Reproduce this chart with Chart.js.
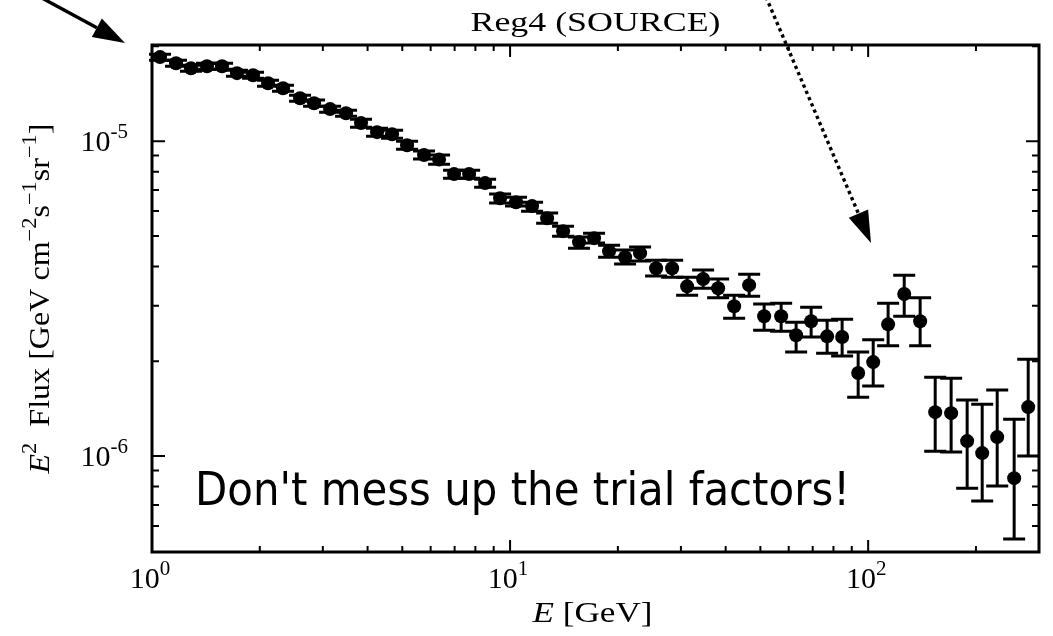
<!DOCTYPE html>
<html lang="en">
<head>
  <meta charset="UTF-8" />
  <title>Reg4 (SOURCE)</title>
  <script src="https://cdn.jsdelivr.net/npm/chart.js"></script>
  <style>
    html, body { margin: 0; padding: 0; background: #fff; }
    canvas { display: block; }
  </style>
</head>
<body>
  <canvas id="chart" width="1053" height="636"></canvas>

  <script>
    // energy bins [GeV]
    const energy = [1.053, 1.167, 1.285, 1.424, 1.569, 1.727, 1.915, 2.109, 2.322, 2.591,
      2.835, 3.143, 3.483, 3.835, 4.251, 4.682, 5.156, 5.751, 6.334, 6.975,
      7.685, 8.516, 9.378, 10.39, 11.52, 12.69, 14.06, 15.58, 17.16, 18.90,
      20.95, 23.07, 25.57, 28.35, 31.22, 34.60, 38.11, 42.24, 46.52, 51.23,
      57.15, 62.93, 69.31, 76.81, 84.59, 93.78, 103.3, 113.7, 126.1, 139.7,
      153.9, 170.5, 189.0, 208.2, 229.3, 255.7, 279.9];

    // E^2 flux [GeV cm^-2 s^-1 sr^-1]
    const flux = [1.849e-5, 1.768e-5, 1.705e-5, 1.730e-5, 1.730e-5, 1.644e-5, 1.620e-5, 1.528e-5, 1.473e-5, 1.369e-5,
      1.320e-5, 1.264e-5, 1.227e-5, 1.141e-5, 1.068e-5, 1.052e-5, 9.71e-6, 9.03e-6, 8.74e-6, 7.86e-6,
      7.86e-6, 7.36e-6, 6.59e-6, 6.40e-6, 6.22e-6, 5.69e-6, 5.18e-6, 4.78e-6, 4.92e-6, 4.47e-6,
      4.28e-6, 4.41e-6, 3.95e-6, 3.95e-6, 3.46e-6, 3.65e-6, 3.41e-6, 2.99e-6, 3.49e-6, 2.78e-6,
      2.78e-6, 2.42e-6, 2.68e-6, 2.40e-6, 2.39e-6, 1.835e-6, 1.988e-6, 2.62e-6, 3.27e-6, 2.68e-6,
      1.379e-6, 1.369e-6, 1.116e-6, 1.022e-6, 1.149e-6, 8.51e-7, 1.431e-6];

    // error bar ends
    const fluxLow = [1.807e-5, 1.730e-5, 1.668e-5, 1.693e-5, 1.693e-5, 1.608e-5, 1.585e-5, 1.495e-5, 1.441e-5, 1.340e-5,
      1.291e-5, 1.236e-5, 1.200e-5, 1.108e-5, 1.037e-5, 1.022e-5, 9.43e-6, 8.77e-6, 8.45e-6, 7.63e-6,
      7.63e-6, 7.14e-6, 6.36e-6, 6.22e-6, 5.99e-6, 5.49e-6, 4.99e-6, 4.57e-6, 4.75e-6, 4.28e-6,
      4.07e-6, 4.16e-6, 3.73e-6, 3.70e-6, 3.24e-6, 3.41e-6, 3.18e-6, 2.74e-6, 3.22e-6, 2.51e-6,
      2.49e-6, 2.14e-6, 2.39e-6, 2.12e-6, 2.08e-6, 1.539e-6, 1.668e-6, 2.24e-6, 2.78e-6, 2.24e-6,
      1.037e-6, 1.030e-6, 7.91e-7, 7.20e-7, 8.03e-7, 5.45e-7, 1.000e-6];

    const fluxHigh = [1.889e-5, 1.807e-5, 1.743e-5, 1.768e-5, 1.768e-5, 1.680e-5, 1.656e-5, 1.562e-5, 1.506e-5, 1.400e-5,
      1.350e-5, 1.291e-5, 1.254e-5, 1.174e-5, 1.100e-5, 1.084e-5, 1.000e-5, 9.30e-6, 9.03e-6, 8.09e-6,
      8.09e-6, 7.57e-6, 6.79e-6, 6.64e-6, 6.40e-6, 5.91e-6, 5.37e-6, 4.96e-6, 5.10e-6, 4.67e-6,
      4.51e-6, 4.61e-6, 4.19e-6, 4.19e-6, 3.70e-6, 3.90e-6, 3.65e-6, 3.24e-6, 3.78e-6, 3.04e-6,
      3.06e-6, 2.66e-6, 2.97e-6, 2.70e-6, 2.72e-6, 2.14e-6, 2.34e-6, 3.06e-6, 3.75e-6, 3.18e-6,
      1.781e-6, 1.768e-6, 1.506e-6, 1.462e-6, 1.620e-6, 1.310e-6, 2.03e-6];

    // axis ticks
    const xMajorTicks = [1, 10, 100];
    const xTickExponents = ['0', '1', '2'];
    const xMinorTicks = [2, 3, 4, 5, 6, 7, 8, 9, 20, 30, 40, 50, 60, 70, 80, 90, 200, 300];
    const yMajorTicks = [1e-6, 1e-5];
    const yTickExponents = ['-6', '-5'];
    const yMinorTicks = [6e-7, 7e-7, 8e-7, 9e-7, 2e-6, 3e-6, 4e-6, 5e-6, 6e-6, 7e-6, 8e-6, 9e-6, 2e-5];

    const SERIF = '"Liberation Serif", "DejaVu Serif", serif';
    const SANS = '"DejaVu Sans", "Noto Sans", sans-serif';

    // text helpers -----------------------------------------------------
    function runFont(r, size) {
      const s = r.sup ? size * 0.7 : size;
      return (r.italic ? 'italic ' : '') + s + 'px ' + SERIF;
    }

    function measureRuns(ctx, runs, size) {
      let w = 0;
      runs.forEach(r => { ctx.font = runFont(r, size); w += ctx.measureText(r.t).width; });
      return w;
    }

    // draws a run list centred on (cx, cy); target = wanted width (stretch)
    function drawRuns(ctx, runs, cx, cy, size, target, angle) {
      const w = measureRuns(ctx, runs, size);
      const sx = target ? target / w : 1;
      ctx.save();
      ctx.translate(cx, cy);
      ctx.rotate(angle || 0);
      ctx.scale(sx, 1);
      ctx.fillStyle = '#000';
      ctx.textAlign = 'left';
      ctx.textBaseline = 'alphabetic';
      let x = -w / 2;
      runs.forEach(r => {
        ctx.font = runFont(r, size);
        ctx.fillText(r.t, x, r.sup ? size * 0.33 - size * 0.42 : size * 0.33);
        x += ctx.measureText(r.t).width;
      });
      ctx.restore();
    }

    // "10^n" label; align = 'center' | 'right'
    function drawPow(ctx, exp, x, y, size, align) {
      const runs = [{ t: '10' }, { t: exp, sup: true }];
      const w = measureRuns(ctx, runs, size);
      const cx = align === 'right' ? x - w / 2 : x;
      drawRuns(ctx, runs, cx, y, size);
    }

    function arrow(ctx, x1, y1, x2, y2, dotted) {
      const ang = Math.atan2(y2 - y1, x2 - x1);
      const headLen = 32, headW = 10.5;
      const bx = x2 - headLen * Math.cos(ang), by = y2 - headLen * Math.sin(ang);
      ctx.save();
      ctx.strokeStyle = '#000';
      ctx.fillStyle = '#000';
      ctx.lineWidth = 3.4;
      if (dotted) ctx.setLineDash([3.4, 3.4]);
      ctx.beginPath();
      ctx.moveTo(x1, y1);
      ctx.lineTo(bx, by);
      ctx.stroke();
      ctx.setLineDash([]);
      ctx.beginPath();
      ctx.moveTo(x2, y2);
      ctx.lineTo(bx + headW * Math.sin(ang), by - headW * Math.cos(ang));
      ctx.lineTo(bx - headW * Math.sin(ang), by + headW * Math.cos(ang));
      ctx.closePath();
      ctx.fill();
      ctx.restore();
    }

    // error bars under the markers
    const errorBars = {
      id: 'errorBars',
      beforeDatasetsDraw(chart) {
        const { ctx, scales: { x, y } } = chart;
        ctx.save();
        ctx.strokeStyle = '#000';
        ctx.lineWidth = 3;
        energy.forEach((e, i) => {
          const px = x.getPixelForValue(e);
          const lo = y.getPixelForValue(fluxLow[i]);
          const hi = y.getPixelForValue(fluxHigh[i]);
          ctx.beginPath();
          ctx.moveTo(px, lo); ctx.lineTo(px, hi);
          ctx.moveTo(px - 11, lo); ctx.lineTo(px + 11, lo);
          ctx.moveTo(px - 11, hi); ctx.lineTo(px + 11, hi);
          ctx.stroke();
        });
        ctx.restore();
      }
    };

    // frame, inward ticks, labels, titles and annotations
    const decorations = {
      id: 'decorations',
      afterDraw(chart) {
        const { ctx, chartArea: a, scales: { x, y } } = chart;
        ctx.save();
        ctx.strokeStyle = '#000';
        ctx.lineWidth = 2;
        ctx.beginPath();
        const tickX = (v, len) => {
          const px = x.getPixelForValue(v);
          ctx.moveTo(px, a.bottom); ctx.lineTo(px, a.bottom - len);
          ctx.moveTo(px, a.top); ctx.lineTo(px, a.top + len);
        };
        const tickY = (v, len) => {
          const py = y.getPixelForValue(v);
          ctx.moveTo(a.left, py); ctx.lineTo(a.left + len, py);
          ctx.moveTo(a.right, py); ctx.lineTo(a.right - len, py);
        };
        xMajorTicks.forEach(v => tickX(v, 12));
        xMinorTicks.forEach(v => tickX(v, 6));
        yMajorTicks.forEach(v => tickY(v, 13));
        yMinorTicks.forEach(v => tickY(v, 7));
        ctx.stroke();

        ctx.lineWidth = 3;
        ctx.strokeRect(a.left, a.top, a.right - a.left, a.bottom - a.top);
        ctx.restore();

        // tick labels
        xMajorTicks.forEach((v, i) => drawPow(ctx, xTickExponents[i], x.getPixelForValue(v) - 2, a.bottom + 26, 30, 'center'));
        yMajorTicks.forEach((v, i) => drawPow(ctx, yTickExponents[i], a.left - 24, y.getPixelForValue(v), 30, 'right'));

        // titles
        drawRuns(ctx, [{ t: 'Reg4 (SOURCE)' }], (a.left + a.right) / 2, 22, 27, 250);
        drawRuns(ctx, [{ t: 'E', italic: true }, { t: ' [GeV]' }], (a.left + a.right) / 2 - 3, 612, 29, 120);
        drawRuns(ctx, [
          { t: 'E', italic: true }, { t: '2', sup: true }, { t: '  Flux [GeV cm' }, { t: '\u22122', sup: true },
          { t: 's' }, { t: '\u22121', sup: true }, { t: 'sr' }, { t: '\u22121', sup: true }, { t: ']' }
        ], 39, (a.top + a.bottom) / 2, 29, 350, -Math.PI / 2);

        // annotation text
        ctx.save();
        ctx.font = '46px ' + SANS;
        const msg = "Don't mess up the trial factors!";
        const tw = ctx.measureText(msg).width;
        ctx.translate(195, 505);
        ctx.scale(655 / tw, 1);
        ctx.fillStyle = '#000';
        ctx.textAlign = 'left';
        ctx.textBaseline = 'alphabetic';
        ctx.fillText(msg, 0, 0);
        ctx.restore();

        // arrows
        arrow(ctx, 40, -3, 125, 43, false);
        arrow(ctx, 766, -3, 871, 243, true);
      }
    };

    const points = energy.map((e, i) => ({ x: e, y: flux[i] }));

    new Chart(document.getElementById('chart').getContext('2d'), {
      type: 'scatter',
      data: {
        datasets: [{
          data: points,
          backgroundColor: '#000',
          borderColor: '#000',
          pointRadius: 7,
          pointHoverRadius: 7,
          borderWidth: 0
        }]
      },
      options: {
        responsive: false,
        animation: false,
        devicePixelRatio: 1,
        layout: { autoPadding: false, padding: { top: 45, right: 14, left: 0, bottom: 0 } },
        plugins: {
          legend: { display: false },
          tooltip: { enabled: false },
          title: { display: false }
        },
        scales: {
          x: {
            type: 'logarithmic',
            min: 1,
            max: 300,
            grid: { display: false },
            border: { display: false },
            ticks: { display: false },
            afterFit: s => { s.height = 84; }
          },
          y: {
            type: 'logarithmic',
            min: 4.96e-7,
            max: 2.02e-5,
            grid: { display: false },
            border: { display: false },
            ticks: { display: false },
            afterFit: s => { s.width = 152; }
          }
        }
      },
      plugins: [errorBars, decorations]
    });
  </script>
</body>
</html>
